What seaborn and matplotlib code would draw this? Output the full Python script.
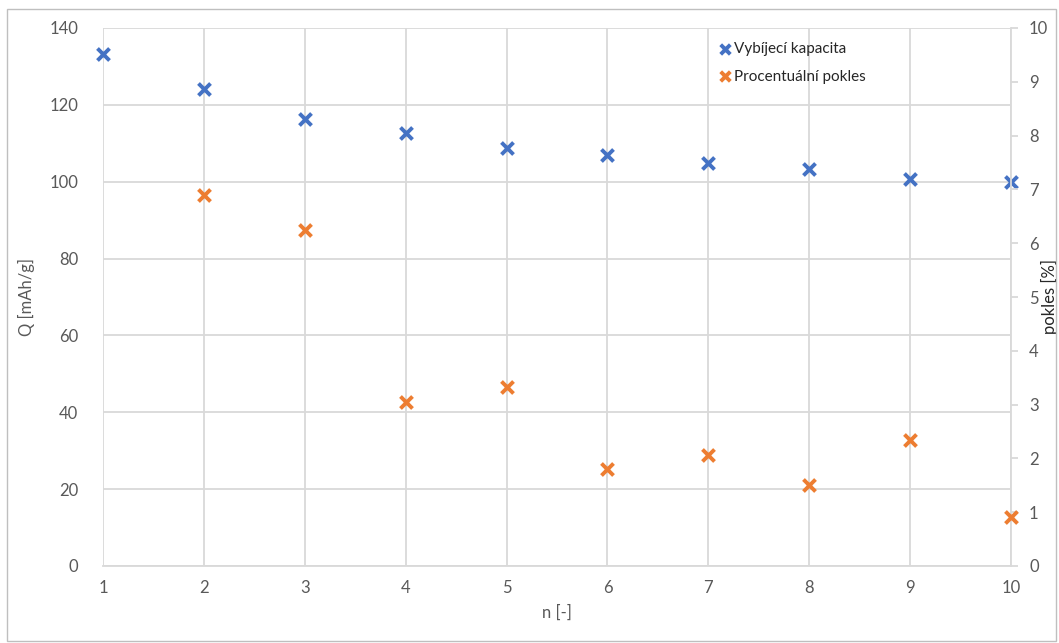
"""Discharge capacity and percentage drop per cycle."""

import matplotlib

matplotlib.use("Agg")
import matplotlib.pyplot as plt
import pandas as pd
import seaborn as sns
from matplotlib.patches import Rectangle

# cycle number
cycles = [1, 2, 3, 4, 5, 6, 7, 8, 9, 10]
# discharge capacity [mAh/g]
capacity = [133.2, 124.0, 116.2, 112.6, 108.9, 106.9, 104.8, 103.2, 100.6, 99.8]
# percentage drop [%] (no value for the first cycle)
drop_cycles = [2, 3, 4, 5, 6, 7, 8, 9, 10]
drop_pct = [6.90, 6.25, 3.04, 3.33, 1.80, 2.06, 1.51, 2.34, 0.92]

left_ticks = [0, 20, 40, 60, 80, 100, 120, 140]
right_ticks = [0, 1, 2, 3, 4, 5, 6, 7, 8, 9, 10]

BLUE = "#4472C4"
ORANGE = "#ED7D31"
GRID = "#d9d9d9"
TEXT = "#595959"

sns.set_style("white")
plt.rcParams["font.family"] = ["Lato", "DejaVu Sans"]

cap_df = pd.DataFrame({"n": cycles, "Q": capacity})
drop_df = pd.DataFrame({"n": drop_cycles, "pokles": drop_pct})

fig = plt.figure(figsize=(10.59, 6.43), dpi=100)
ax = fig.add_axes([103 / 1059, 1 - 566 / 643, (1011 - 103) / 1059, (566 - 28) / 643])
ax2 = ax.twinx()

sns.scatterplot(data=cap_df, x="n", y="Q", ax=ax, marker="x", s=75,
                linewidth=2.8, color=BLUE, label="Vybíjecí kapacita",
                legend=False, zorder=5, clip_on=False)
sns.scatterplot(data=drop_df, x="n", y="pokles", ax=ax2, marker="x", s=75,
                linewidth=2.8, color=ORANGE, label="Procentuální pokles",
                legend=False, zorder=5, clip_on=False)

ax.set_xlim(1, 10)
ax.set_ylim(0, 140)
ax.set_xticks(cycles)
ax.set_yticks(left_ticks)
ax2.set_ylim(0, 10)
ax2.set_yticks(right_ticks)

ax.grid(True, color=GRID, linewidth=1.3)
ax.set_axisbelow(True)
for side in ["top", "left", "right"]:
    ax.spines[side].set_visible(False)
    ax2.spines[side].set_visible(False)
ax2.spines["bottom"].set_visible(False)
ax.spines["bottom"].set_color(GRID)
ax.spines["bottom"].set_linewidth(1.3)
ax2.spines["right"].set_visible(True)
ax2.spines["right"].set_color(GRID)
ax2.spines["right"].set_linewidth(1.3)

ax.tick_params(axis="both", length=0, labelsize=12, labelcolor=TEXT, pad=10)
ax.tick_params(axis="y", pad=18)
ax2.tick_params(axis="y", length=5, color=GRID, width=1.3, labelsize=12,
                labelcolor=TEXT, pad=8)

ax.set_xlabel("n [-]", fontsize=12, color=TEXT, labelpad=6)
ax.set_ylabel("Q [mAh/g]", fontsize=12, color=TEXT, labelpad=10)
ax2.set_ylabel("pokles [%]", fontsize=12, color="#262626")
ax2.yaxis.set_label_coords(1.0335, 0.5)

h1, l1 = ax.get_legend_handles_labels()
h2, l2 = ax2.get_legend_handles_labels()
ax2.legend(h1 + h2, l1 + l2, loc="upper left", bbox_to_anchor=(0.66, 1.0),
           frameon=False, fontsize=11, handletextpad=0.0, handlelength=1.2,
           labelspacing=0.9, markerscale=0.8)

fig.patches.append(Rectangle((7 / 1059, 2 / 643), 1049 / 1059, 632 / 643,
                             transform=fig.transFigure, fill=False,
                             edgecolor="#bfbfbf", linewidth=1))

fig.savefig("out.png", dpi=100)
